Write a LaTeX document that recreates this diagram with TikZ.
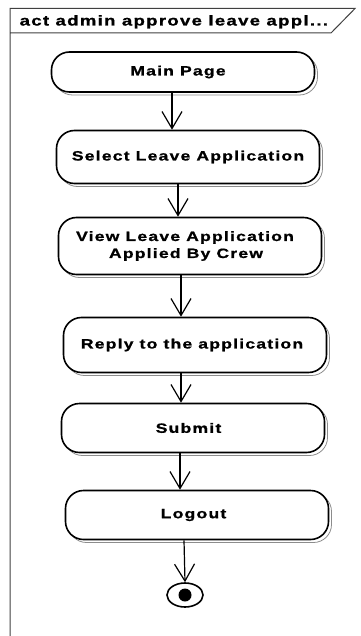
\documentclass[tikz,border=0pt]{standalone}
\usepackage{fontspec}
\newfontfamily\umlfont[FakeStretch=1.3,LetterSpace=9,FakeBold=1]{Liberation Sans}
\usetikzlibrary{arrows.meta,shadows,shapes.geometric}

% labels sit a little left of the centre of their activity
\newcommand{\lbl}[2][8pt]{#2\hspace*{#1}}

\tikzset{
  activity/.style={draw=black, line width=1.6pt, fill=white, rounded corners=18pt,
    minimum width=263pt, inner sep=0pt, align=center,
    font=\umlfont\bfseries\fontsize{13.5}{17}\selectfont,
    copy shadow={shadow xshift=3pt, shadow yshift=-3pt, draw=black!45,
      line width=0.8pt, fill=white}},
  flow/.style={draw=black, line width=1.2pt,
    -{Straight Barb[length=17pt,width=20pt,line width=1.2pt]}},
  framelinestyle/.style={draw=black!75, line width=1pt},
}

\begin{document}
\begin{tikzpicture}[x=1pt,y=-1pt]
  \useasboundingbox (0,0) rectangle (360,636);

  % diagram frame with its name tab
  \draw[framelinestyle] (10,636) -- (10,8.5) -- (355,8.5) -- (331,33) -- (10,33);
  \node[anchor=base west, inner sep=0pt, font=\umlfont\bfseries\fontsize{14.3}{17}\selectfont]
    (title) at (19.5,25.5) {act admin approve leave appl...};

  % activities
  \node[activity, minimum height=40pt] (main)   at (183,72)  {\lbl[10pt]{Main Page}};
  \node[activity, minimum height=53pt] (select) at (188,157) {Select Leave Application};
  \node[activity, minimum height=57pt] (view)   at (190,246)
    {\lbl[10pt]{View Leave Application}\\\lbl{Applied By Crew}};
  \node[activity, minimum height=55pt] (reply)  at (195,345) {\lbl[6pt]{Reply to the application}};
  \node[activity, minimum height=49pt] (submit) at (193,428) {\lbl[9pt]{Submit}};
  \node[activity, minimum height=49pt] (logout) at (197,515) {\lbl[7pt]{Logout}};

  % final node
  \node[ellipse, draw=black, line width=1.6pt, minimum width=36pt, minimum height=24pt,
        inner sep=0pt, fill=white] (final) at (185,595) {};
  \node[circle, fill=black, minimum size=13pt, inner sep=0pt] (finaldot) at (final.center) {};

  % control flows
  \draw[flow] ([xshift=-11pt]main.south)   -- ([xshift=-11pt]main.south   |- select.north);
  \draw[flow] ([xshift=-10pt]select.south) -- ([xshift=-10pt]select.south |- view.north);
  \draw[flow] ([xshift=-9pt]view.south)    -- ([xshift=-9pt]view.south    |- reply.north);
  \draw[flow] ([xshift=-14pt]reply.south)  -- ([xshift=-14pt]reply.south  |- submit.north);
  \draw[flow] ([xshift=-13pt]submit.south) -- ([xshift=-13pt]submit.south |- logout.north);
  \draw[flow] ([xshift=-13pt]logout.south) -- (final.north);
\end{tikzpicture}
\end{document}
